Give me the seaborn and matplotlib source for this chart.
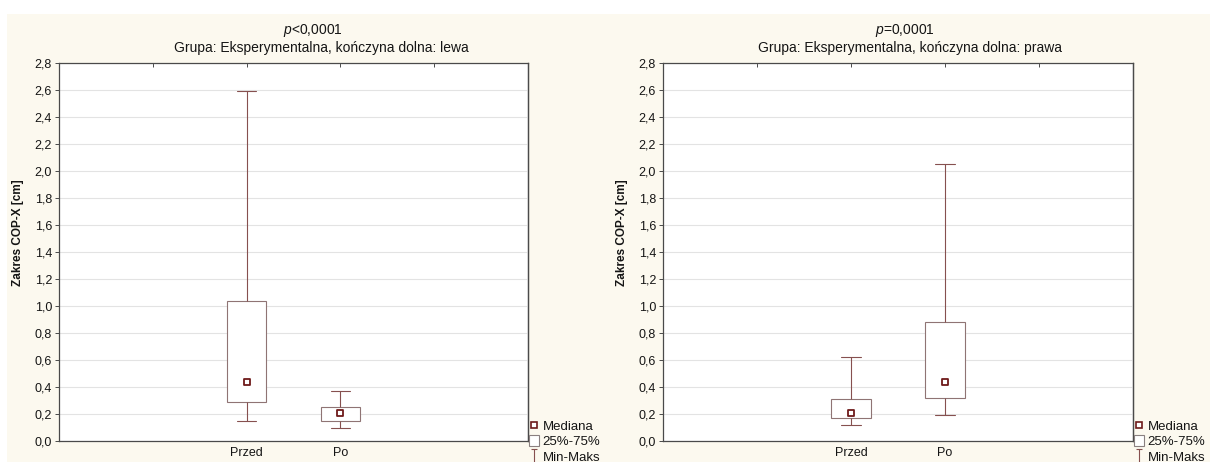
import numpy as np
import pandas as pd
import matplotlib
matplotlib.use("Agg")
import matplotlib.pyplot as plt
import seaborn as sns
from matplotlib.patches import Rectangle, Patch
from matplotlib.lines import Line2D
from matplotlib.path import Path

# ---------------- data ----------------
categories = ["Przed", "Po"]
# five-number summaries: min, Q1, median, Q3, max
left_przed = [0.15, 0.29, 0.44, 1.04, 2.59]
left_po = [0.10, 0.15, 0.21, 0.25, 0.37]
right_przed = [0.12, 0.17, 0.21, 0.31, 0.62]
right_po = [0.19, 0.32, 0.44, 0.88, 2.05]
p_texts = ["<0,0001", "=0,0001"]
subtitles = ["Grupa: Eksperymentalna, kończyna dolna: lewa",
             "Grupa: Eksperymentalna, kończyna dolna: prawa"]
y_label = "Zakres COP-X [cm]"
y_ticks = [0.0, 0.2, 0.4, 0.6, 0.8, 1.0, 1.2, 1.4, 1.6, 1.8, 2.0, 2.2, 2.4, 2.6, 2.8]
y_tick_labels = ["0,0", "0,2", "0,4", "0,6", "0,8", "1,0", "1,2", "1,4",
                 "1,6", "1,8", "2,0", "2,2", "2,4", "2,6", "2,8"]
legend_labels = ["Mediana", "25%-75%", "Min-Maks"]

panels = [(left_przed, left_po), (right_przed, right_po)]

# ---------------- style ----------------
sns.set_theme(style="white")
plt.rcParams["font.family"] = ["Liberation Sans", "DejaVu Sans"]
plt.rcParams["mathtext.fontset"] = "custom"
plt.rcParams["mathtext.it"] = "Liberation Sans:italic"
plt.rcParams["mathtext.rm"] = "Liberation Sans"

W, H = 1210, 462
fig = plt.figure(figsize=(W / 100, H / 100), dpi=100)
fig.patch.set_facecolor("white")
fig.add_artist(Rectangle((7 / W, 0), 1 - 7 / W, (H - 14) / H,
                         transform=fig.transFigure, facecolor="#fcf9ef",
                         edgecolor="none", zorder=-10))

WHISK = "#86504f"
BOXC = "#8f7474"
MEDC = "#6e1a1a"
SPINE = "#4a4a4a"
TXT = "#151515"

ax_lefts = [59, 663]
ax_widths = [469, 470]
title_p_x = [313, 905]
title_s_x = [321, 910]

i_path = Path([(-0.5, 1), (0.5, 1), (0, 1), (0, -1), (-0.5, -1), (0.5, -1)],
              [Path.MOVETO, Path.LINETO, Path.MOVETO, Path.LINETO,
               Path.MOVETO, Path.LINETO])

for i, (przed, po) in enumerate(panels):
    ax = fig.add_axes([ax_lefts[i] / W, (H - 441) / H, ax_widths[i] / W, 378 / H])
    ax.set_facecolor("white")
    df = pd.DataFrame({
        "cat": [categories[0]] * len(przed) + [categories[1]] * len(po),
        "val": list(przed) + list(po),
    })
    sns.boxplot(data=df, x="cat", y="val", order=categories, ax=ax,
                whis=(0, 100), width=0.42, showfliers=False,
                color="white", linecolor=WHISK, linewidth=0.8,
                boxprops={"facecolor": "white", "edgecolor": BOXC, "linewidth": 0.8},
                whiskerprops={"color": WHISK, "linewidth": 0.8},
                capprops={"color": WHISK, "linewidth": 0.8},
                medianprops={"visible": False})
    meds = pd.DataFrame({"cat": categories, "val": [przed[2], po[2]]})
    sns.stripplot(data=meds, x="cat", y="val", order=categories, ax=ax,
                  jitter=False, marker="s", size=4.7, color="white",
                  edgecolor=MEDC, linewidth=1.3, zorder=5)

    ax.set_xlim(-2, 3)
    ax.set_ylim(0, 2.8)
    ax.set_xticks([-1, 0, 1, 2])
    ax.set_xticklabels(["", categories[0], categories[1], ""])
    ax.set_yticks(y_ticks)
    ax.set_yticklabels(y_tick_labels)
    ax.set_xlabel("")
    ax.yaxis.grid(True, color="#e3e3e3", linewidth=0.8)
    ax.xaxis.grid(False)
    ax.set_axisbelow(True)
    ax.tick_params(axis="x", direction="in", top=True, length=3, width=0.7,
                   color=SPINE, labelsize=9, pad=4, labelcolor=TXT)
    ax.tick_params(axis="y", direction="out", left=True, length=3, width=0.7,
                   color=SPINE, labelsize=9, pad=2, labelcolor=TXT)
    sec = ax.secondary_yaxis("right")
    sec.set_yticks(y_ticks)
    sec.tick_params(axis="y", direction="in", length=3, width=0.7, color=SPINE,
                    labelright=False)
    sec.spines["right"].set_color(SPINE)
    sec.spines["right"].set_linewidth(0.9)
    for s in ax.spines.values():
        s.set_color(SPINE)
        s.set_linewidth(0.9)
        s.set_visible(True)

    ax.set_ylabel(y_label, fontsize=8.5, fontweight="bold", color=TXT)
    ax.yaxis.set_label_coords(-0.075, 0.55)

    fig.text(title_p_x[i] / W, 1 - 30.5 / H, "$\\mathit{p}$" + p_texts[i],
             ha="center", va="center", fontsize=10, color=TXT)
    fig.text(title_s_x[i] / W, 1 - 48 / H, subtitles[i],
             ha="center", va="center", fontsize=10, color=TXT)

    handles = [
        Line2D([], [], marker="s", linestyle="none", markersize=4.5,
               markerfacecolor="white", markeredgecolor=MEDC, markeredgewidth=1.2),
        Patch(facecolor="white", edgecolor="#8a8080", linewidth=0.8),
        Line2D([], [], marker=i_path, linestyle="none", markersize=10,
               markerfacecolor="none", markeredgecolor=WHISK, markeredgewidth=0.8),
    ]
    ax.legend(handles, legend_labels, loc="lower left",
              bbox_to_anchor=(1.002, -0.06), frameon=False, fontsize=9.5,
              borderpad=0, borderaxespad=0, handlelength=0.75, handleheight=0.9,
              handletextpad=0.3, labelspacing=0.17, labelcolor=TXT)

fig.savefig("out.png", dpi=100, facecolor=fig.get_facecolor())
